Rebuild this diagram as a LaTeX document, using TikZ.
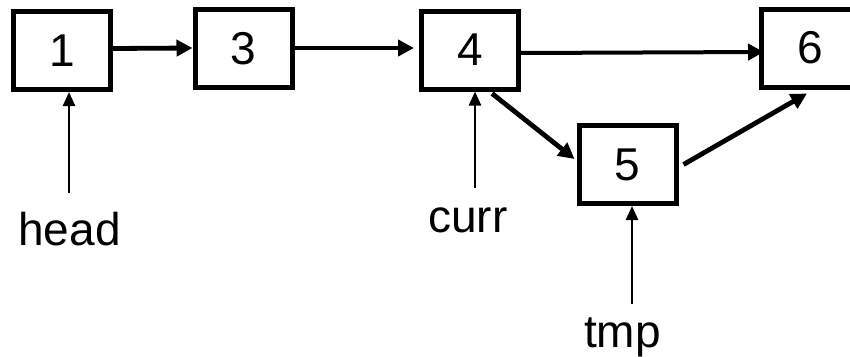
\documentclass[tikz,border=0pt]{standalone}
\usepackage{fontspec}
\setmainfont{Liberation Sans}
\usetikzlibrary{arrows.meta}
\begin{document}
\begin{tikzpicture}[x=1pt,y=-1pt,
  box/.style={draw, line width=5pt, minimum width=97pt, minimum height=78pt, inner sep=0pt, font=\fontsize{46}{50}\selectfont},
  lbl/.style={inner sep=0pt, anchor=base, font=\fontsize{46}{50}\selectfont},
  link/.style={line width=4.8pt, -{Triangle[length=16pt,width=16pt]}},
  ptr/.style={line width=2.4pt, -{Triangle[length=14pt,width=12pt]}}]
\useasboundingbox (0,0) rectangle (850,356);
\clip (0,0) rectangle (850,356);
% list nodes
\node[box] (b1) at (62,50.5) {1};
\node[box] (b3) at (243.5,48.5) {3};
\node[box] (b4) at (470,50) {4};
\node[box] (b5) at (627.5,164.5) {5};
\node[box] (b6) at (810,48) {6};
% labels
\node[lbl] (head) at (69.5,245) {head};
\node[lbl] (curr) at (468,232) {curr};
\node[lbl] (tmp) at (622.5,347) {tmp};
% links
\draw[link] ([yshift=2pt]b1.east) -- ([yshift=0.5pt]b3.west);
\draw[link] ([yshift=0.5pt]b3.east) -- ([xshift=-5pt,yshift=2pt]b4.west);
\draw[link, line width=4pt] ([yshift=-3pt]b4.east) -- ([xshift=5pt,yshift=-4pt]b6.west);
\draw[link] ([xshift=22pt,yshift=-2pt]b4.south) -- ([xshift=-2pt,yshift=5.5pt]b5.west);
\draw[link] ([xshift=5pt]b5.east) -- ([xshift=-3pt,yshift=-4pt]b6.south);
% pointers
\coordinate (hp) at (69,193);
\coordinate (cp) at (475,188);
\coordinate (tp) at (632,304);
\draw[ptr] (hp) -- (hp |- b1.south);
\draw[ptr] (cp) -- (cp |- b4.south);
\draw[ptr] (tp) -- (tp |- b5.south);
\end{tikzpicture}
\end{document}
